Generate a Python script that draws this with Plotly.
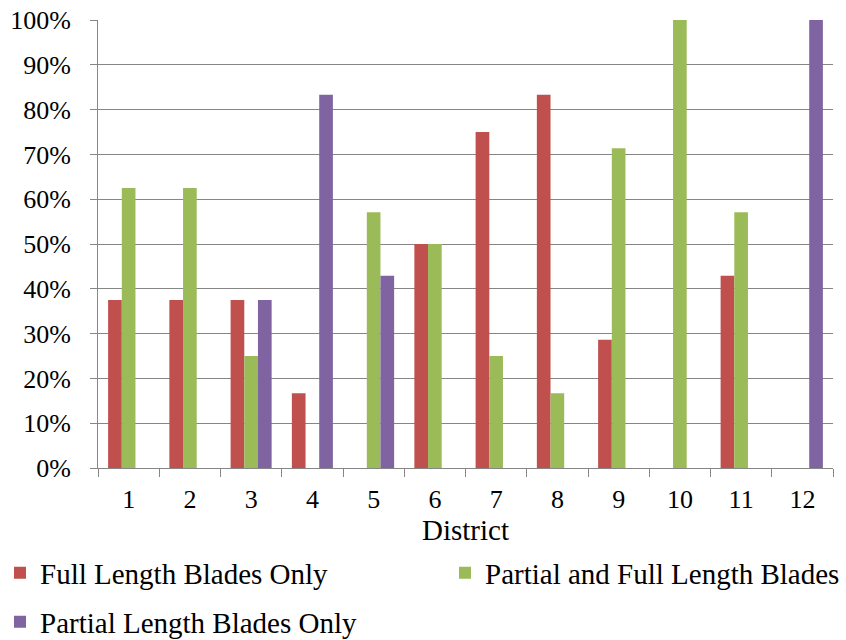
import plotly.graph_objects as go

districts = ["1", "2", "3", "4", "5", "6", "7", "8", "9", "10", "11", "12"]
full_only = [37.5, 37.5, 37.5, 16.7, 0, 50, 75, 83.3, 28.6, 0, 42.9, 0]
partial_and_full = [62.5, 62.5, 25, 0, 57.1, 50, 25, 16.7, 71.4, 100, 57.1, 0]
partial_only = [0, 0, 37.5, 83.3, 42.9, 0, 0, 0, 0, 0, 0, 100]

FONT = "Liberation Serif"
GRID = "#868686"
TICK_SIZE = 26
LABEL_SIZE = 29

fig = go.Figure()
fig.add_trace(go.Bar(x=districts, y=full_only, name="Full Length Blades Only",
                     marker=dict(color="#C0504D", line=dict(width=0)),
                     legend="legend", showlegend=True))
fig.add_trace(go.Bar(x=districts, y=partial_and_full, name="Partial and Full Length Blades",
                     marker=dict(color="#9BBB59", line=dict(width=0)),
                     legend="legend3", showlegend=True))
fig.add_trace(go.Bar(x=districts, y=partial_only, name="Partial Length Blades Only",
                     marker=dict(color="#8064A2", line=dict(width=0)),
                     legend="legend2", showlegend=True))

legend_common = dict(orientation="h", xref="container", yref="container",
                     xanchor="left", yanchor="middle", itemwidth=30,
                     font=dict(family=FONT, size=LABEL_SIZE, color="black"),
                     bgcolor="rgba(0,0,0,0)", borderwidth=0)

fig.update_layout(
    width=846, height=640,
    showlegend=True,
    margin=dict(l=98, r=13, t=20, b=172, autoexpand=False),
    paper_bgcolor="white", plot_bgcolor="white",
    barmode="group", bargap=0.33, bargroupgap=0,
    font=dict(family=FONT, size=LABEL_SIZE, color="black"),
    xaxis=dict(
        type="category", tickson="boundaries", ticks="outside", ticklen=8,
        tickcolor=GRID, showline=True, linecolor=GRID, linewidth=1,
        showgrid=False, tickfont=dict(family=FONT, size=TICK_SIZE),
        ticklabelstandoff=8,
        title=dict(text="District", font=dict(family=FONT, size=LABEL_SIZE), standoff=2),
    ),
    yaxis=dict(
        range=[0, 100], tickvals=list(range(0, 101, 10)),
        ticktext=[f"{v}%" for v in range(0, 101, 10)],
        ticks="outside", ticklen=7, tickcolor=GRID,
        showline=True, linecolor=GRID, linewidth=1,
        showgrid=True, gridcolor=GRID, gridwidth=1,
        tickfont=dict(family=FONT, size=TICK_SIZE), zeroline=False,
        ticklabelstandoff=14,
    ),
    legend=dict(x=0.0, y=1 - 573 / 640, **legend_common),
    legend3=dict(x=445 / 846, y=1 - 573 / 640, **legend_common),
    legend2=dict(x=0.0, y=1 - 622 / 640, **legend_common),
)

fig.write_html("out.html")
